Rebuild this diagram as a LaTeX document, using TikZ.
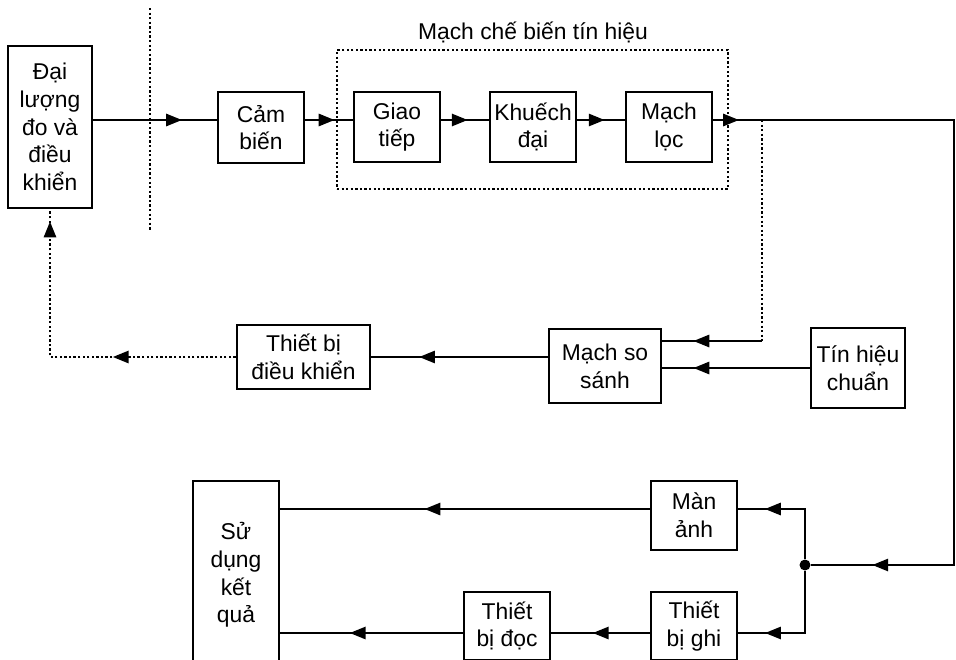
\documentclass[tikz,border=0pt]{standalone}
\usepackage{fontspec}
\setmainfont{Liberation Sans}
\usetikzlibrary{arrows.meta,decorations.markings}
\tikzset{
  block/.style   ={draw,line width=1.6pt,align=center,inner sep=2pt},
  frame/.style   ={draw,line width=1.6pt,dash pattern=on 1.3pt off 1.3pt},
  arrow/.style   ={line width=1.6pt},
  dotline/.style ={line width=1.6pt,dash pattern=on 1.3pt off 1.3pt},
  midtip/.style  ={postaction={decorate,decoration={markings,
                   mark=at position #1 with {\arrow{Triangle[length=3.2mm,width=2.4mm]}}}}},
  junction/.style={circle,fill,inner sep=0pt,minimum size=2.2mm}
}
\begin{document}
\begin{tikzpicture}[x=0.02cm,y=-0.02cm, every node/.style={font=\fontsize{13}{15.8}\selectfont}]
    \useasboundingbox (0,0) rectangle (956,659);
    \clip (0,0) rectangle (956,659);
    % upper row
    \node[block, minimum width=1.68cm, minimum height=3.24cm] (dlg) at (50,127)    {Đại\\lượng\\đo và\\điều\\khiển};
    \node[block, minimum width=1.72cm, minimum height=1.42cm] (cb)  at (261,127.5) {Cảm\\biến};
    \node[block, minimum width=1.72cm, minimum height=1.40cm] (gt)  at (397,127)   {Giao\\tiếp};
    \node[block, minimum width=1.72cm, minimum height=1.40cm] (kd)  at (533,127)   {Khuếch\\đại};
    \node[block, minimum width=1.72cm, minimum height=1.40cm] (ml)  at (669,127)   {Mạch\\lọc};
    \node[frame, minimum width=7.82cm, minimum height=2.78cm] (mcb) at (532.5,119.5) {};
    \node (title) at (533,32) {Mạch chế biến tín hiệu};
    \draw[dotline] (150,8) -- (150,230);
    % middle row
    \node[block, minimum width=2.66cm, minimum height=1.28cm] (tbdk) at (303.5,357) {Thiết bị\\điều khiển};
    \node[block, minimum width=2.24cm, minimum height=1.48cm] (mss)  at (605,366)   {Mạch so\\sánh};
    \node[block, minimum width=1.88cm, minimum height=1.60cm] (thc)  at (858,368)   {Tín hiệu\\chuẩn};
    % lower row
    \node[block, minimum width=1.72cm, minimum height=1.38cm] (ma)   at (694,515.5) {Màn\\ảnh};
    \node[block, minimum width=1.72cm, minimum height=3.76cm] (sdkq) at (236,575)   {Sử\\dụng\\kết\\quả};
    \node[block, minimum width=1.72cm, minimum height=1.36cm] (tbd)  at (507,626)   {Thiết\\bị đọc};
    \node[block, minimum width=1.72cm, minimum height=1.36cm] (tbg)  at (694,626)   {Thiết\\bị ghi};
    \node[junction] (jn) at (805,565) {};

    \coordinate (row)    at (0,120);
    \coordinate (tap)    at (762,120);
    \coordinate (tr)     at (954,120);
    \coordinate (br)     at (954,565);
    \coordinate (cmpin)  at (762,341);
    \coordinate (toprow) at (0,509);
    \coordinate (botrow) at (0,633);

    \foreach \a/\b/\p in {dlg/cb/0.72,cb/gt/0.62,gt/kd/0.56,kd/ml/0.58}
      \draw[arrow, midtip=\p] (\a.east |- row) -- (\b.west |- row);
    \draw[arrow, midtip=0.031, midtip=0.926] (ml.east |- row) -- (tr) -- (br) -- (jn);
    \draw[dotline] (tap) -- (cmpin);
    \draw[arrow, midtip=0.69] (cmpin) -- (mss.east |- cmpin);
    \draw[arrow, midtip=0.79] (thc.west) -- (mss.east |- thc.west);
    \draw[arrow, midtip=0.73] (mss.west |- tbdk.east) -- (tbdk.east);
    \draw[dotline, midtip=0.369, midtip=0.964] (tbdk.west) -- (dlg.south |- tbdk.west) -- (dlg.south);

    \draw[arrow, midtip=0.774] (jn) -- (jn |- toprow) -- (ma.east |- toprow);
    \draw[arrow, midtip=0.794] (jn) -- (jn |- botrow) -- (tbg.east |- botrow);
    \draw[arrow, midtip=0.61] (ma.west |- toprow) -- (sdkq.east |- toprow);
    \draw[arrow, midtip=0.58] (tbg.west |- botrow) -- (tbd.east |- botrow);
    \draw[arrow, midtip=0.62] (tbd.west |- botrow) -- (sdkq.east |- botrow);
\end{tikzpicture}
\end{document}
